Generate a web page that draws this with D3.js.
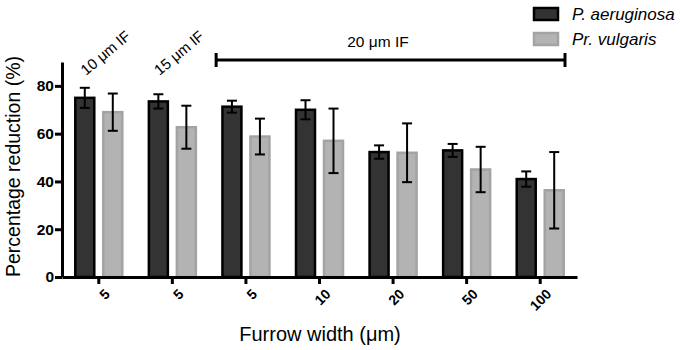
<!DOCTYPE html>
<html>
<head>
<meta charset="utf-8">
<script src="https://cdn.jsdelivr.net/npm/d3@7"></script>
<style>
  body { margin: 0; background: #fff; }
  text { font-family: "Liberation Sans", Arial, Helvetica, sans-serif; }
</style>
</head>
<body>
<div id="chart"></div>
<script>
// Data
const categories = ["5", "5", "5", "10", "20", "50", "100"];
const seriesNames = ["P. aeruginosa", "Pr. vulgaris"];
const aeruginosaMean = [75, 73.5, 71.3, 70, 52.3, 53, 41];
const aeruginosaErr = [4.2, 3, 2.5, 4, 2.8, 2.7, 3.2];
const vulgarisMean = [69, 62.7, 58.8, 57, 52, 45, 36.3];
const vulgarisErr = [7.8, 9, 7.5, 13.5, 12.3, 9.5, 16];
const yTicks = [0, 20, 40, 60, 80];

const W = 680, H = 350;
const margin = { top: 62, right: 103, bottom: 73, left: 62 };
const width = W - margin.left - margin.right;
const height = H - margin.top - margin.bottom;

const svg = d3.select("#chart").append("svg")
  .attr("width", W).attr("height", H);
const g = svg.append("g").attr("transform", `translate(${margin.left},${margin.top})`);

const x = d3.scaleBand().domain(d3.range(categories.length)).range([0, width]).padding(0);
const y = d3.scaleLinear().domain([0, 90]).range([height, 0]);

const series = [
  { name: seriesNames[0], mean: aeruginosaMean, err: aeruginosaErr, fill: "#333333", stroke: "#000000", off: -14 },
  { name: seriesNames[1], mean: vulgarisMean, err: vulgarisErr, fill: "#b3b3b3", stroke: "#a3a3a3", off: 14 }
];
const barW = 19;

series.forEach(s => {
  const data = s.mean.map((v, i) => ({ i, v, e: s.err[i] }));
  const cx = d => x(d.i) + x.bandwidth() / 2 + s.off;
  g.append("g").selectAll("rect").data(data).enter().append("rect")
    .attr("x", d => cx(d) - barW / 2)
    .attr("y", d => y(d.v))
    .attr("width", barW)
    .attr("height", d => y(0) - y(d.v))
    .attr("fill", s.fill)
    .attr("stroke", s.stroke)
    .attr("stroke-width", 2.5);

  // Error bars
  const eg = g.append("g").attr("stroke", "#000").attr("stroke-width", 2);
  eg.selectAll("line.v").data(data).enter().append("line")
    .attr("x1", cx).attr("x2", cx)
    .attr("y1", d => y(d.v + d.e)).attr("y2", d => y(d.v - d.e));
  eg.selectAll("line.t").data(data).enter().append("line")
    .attr("x1", d => cx(d) - 5).attr("x2", d => cx(d) + 5)
    .attr("y1", d => y(d.v + d.e)).attr("y2", d => y(d.v + d.e));
  eg.selectAll("line.b").data(data).enter().append("line")
    .attr("x1", d => cx(d) - 5).attr("x2", d => cx(d) + 5)
    .attr("y1", d => y(d.v - d.e)).attr("y2", d => y(d.v - d.e));
});

// X axis
const xAxis = g.append("g")
  .attr("transform", `translate(0,${height})`)
  .call(d3.axisBottom(x).tickFormat(i => categories[i]).tickSize(7).tickSizeOuter(0));
xAxis.select(".domain").attr("stroke-width", 3);
xAxis.selectAll(".tick line").attr("stroke-width", 3);
xAxis.selectAll(".tick text")
  .attr("font-size", 14).attr("font-weight", "bold")
  .attr("text-anchor", "end")
  .attr("dy", 0)
  .attr("transform", "translate(5,11) rotate(-45)");

// Y axis
const yAxis = g.append("g")
  .call(d3.axisLeft(y).tickValues(yTicks).tickSize(7).tickSizeOuter(0));
yAxis.select(".domain").attr("stroke-width", 3);
yAxis.selectAll(".tick text").attr("font-size", 15.5).attr("font-weight", "bold").attr("x", -8);
yAxis.selectAll(".tick line").attr("stroke-width", 3);

// Axis titles
svg.append("text")
  .attr("transform", `translate(20,${margin.top + height / 2 - 3}) rotate(-90)`)
  .attr("text-anchor", "middle")
  .attr("font-size", 19.5)
  .text("Percentage reduction (%)");
svg.append("text")
  .attr("x", 320).attr("y", 341)
  .attr("text-anchor", "middle")
  .attr("font-size", 20)
  .text("Furrow width (\u03bcm)");

// Rotated group labels
const groupLabels = ["10 \u03bcm IF", "15 \u03bcm IF"];
groupLabels.forEach((t, i) => {
  svg.append("text")
    .attr("transform", `translate(${margin.left + x(i) + 24},${76}) rotate(-40)`)
    .attr("font-size", 15)
    .text(t);
});

// Bracket for 20 um IF
const bx1 = margin.left + x(2) + 7;
const bx2 = margin.left + x(6) + x.bandwidth() - 12;
const by = 60;
const br = svg.append("g").attr("stroke", "#000").attr("stroke-width", 3);
br.append("line").attr("x1", bx1).attr("x2", bx2).attr("y1", by).attr("y2", by);
br.append("line").attr("x1", bx1).attr("x2", bx1).attr("y1", by - 7).attr("y2", by + 7);
br.append("line").attr("x1", bx2).attr("x2", bx2).attr("y1", by - 7).attr("y2", by + 7);
svg.append("text")
  .attr("x", 378).attr("y", 47)
  .attr("text-anchor", "middle")
  .attr("font-size", 15.5)
  .text("20 \u03bcm IF");

// Legend
const legend = svg.append("g").attr("transform", "translate(534,7)");
series.forEach((s, i) => {
  const lg = legend.append("g").attr("transform", `translate(0,${i * 25})`);
  lg.append("rect").attr("x", 0).attr("y", 1).attr("width", 24).attr("height", 12)
    .attr("fill", s.fill).attr("stroke", s.stroke).attr("stroke-width", 2.5);
  lg.append("text").attr("x", 38).attr("y", 13)
    .attr("font-size", 17).attr("font-style", "italic")
    .text(s.name);
});
</script>
</body>
</html>
